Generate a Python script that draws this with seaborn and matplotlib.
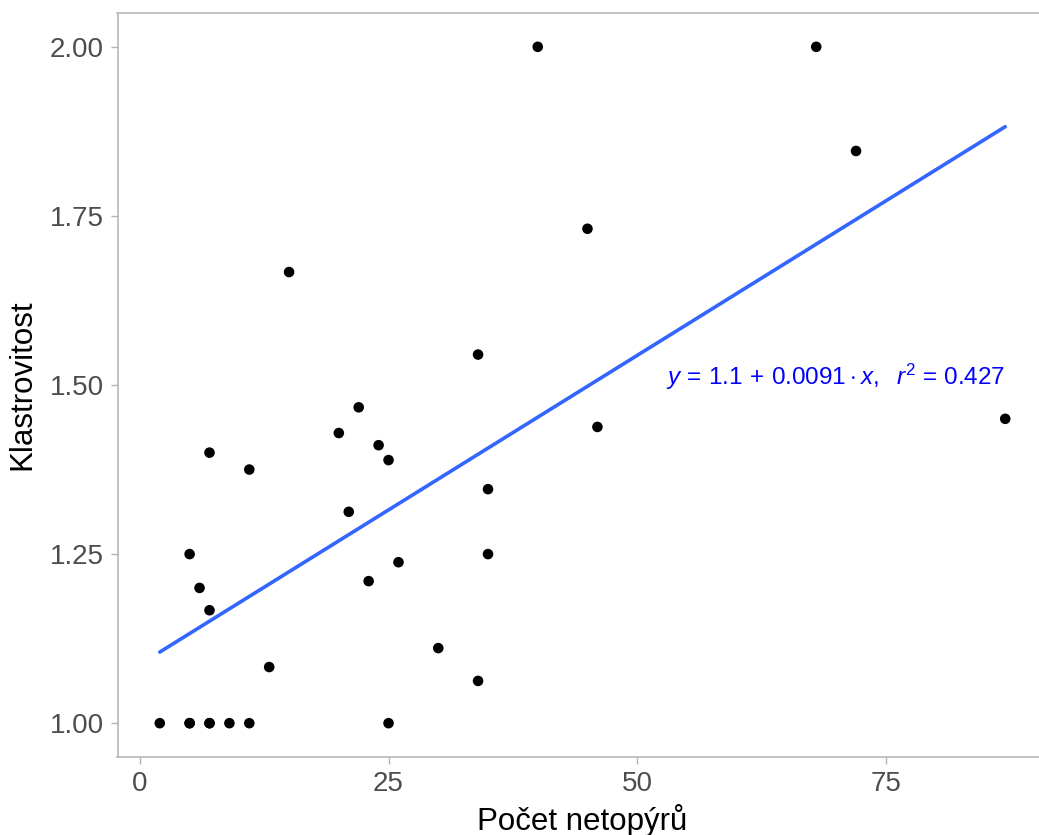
import matplotlib
matplotlib.use("Agg")
import matplotlib.pyplot as plt
import seaborn as sns
import pandas as pd

# Number of bats per site and the measured clustering index
pocet_netopyru = [2, 5, 5, 7, 7, 9, 11, 25, 13, 5, 6, 7, 7, 11, 15, 20, 22, 21, 24,
                  25, 23, 26, 30, 34, 34, 35, 35, 40, 45, 46, 68, 72, 87]
klastrovitost = [1.0, 1.0, 1.0, 1.0, 1.0, 1.0, 1.0, 1.0, 1.083, 1.25, 1.2, 1.167,
                 1.4, 1.375, 1.667, 1.429, 1.467, 1.3125, 1.411, 1.389, 1.21, 1.238,
                 1.111, 1.0625, 1.545, 1.346, 1.25, 2.0, 1.731, 1.438, 2.0, 1.846,
                 1.45]

x_ticks = [0, 25, 50, 75]
y_ticks = [1.00, 1.25, 1.50, 1.75, 2.00]
y_tick_labels = ["1.00", "1.25", "1.50", "1.75", "2.00"]

df = pd.DataFrame({"x": pocet_netopyru, "y": klastrovitost})

sns.set_theme(style="white")
plt.rcParams["font.family"] = ["Liberation Sans", "DejaVu Sans"]
plt.rcParams["mathtext.fontset"] = "custom"
plt.rcParams["mathtext.rm"] = "Liberation Sans"
plt.rcParams["mathtext.it"] = "Liberation Sans:italic"

fig = plt.figure(figsize=(10.39, 8.35), dpi=100)
ax = fig.add_axes([117.5 / 1039, 78 / 835, 930 / 1039, 744 / 835])

sns.regplot(data=df, x="x", y="y", ax=ax, scatter=False, ci=None,
            line_kws={"color": "#3366FF", "lw": 2.6})
sns.scatterplot(data=df, x="x", y="y", ax=ax, color="black", s=58,
                edgecolor="none", zorder=3)

ax.text(87, 1.512,
        r"$y\, =\, 1.1\, +\, 0.0091 \cdot x,\ \ r^2$ = 0.427",
        color="#0000FF", fontsize=17.5, ha="right", va="center")

ax.set_xlim(-2.25, 91.25)
ax.set_ylim(0.95, 2.05)
ax.set_xticks(x_ticks)
ax.set_yticks(y_ticks)
ax.set_yticklabels(y_tick_labels)
ax.tick_params(axis="both", which="major", labelsize=20, colors="#B3B3B3",
               labelcolor="#4D4D4D", length=5, width=1, direction="out",
               bottom=True, left=True, pad=5)

for side in ["left", "right", "top", "bottom"]:
    ax.spines[side].set_visible(True)
    ax.spines[side].set_color("#B3B3B3")
    ax.spines[side].set_linewidth(1.1)

ax.set_xlabel("Počet netopýrů", fontsize=22.5, color="black", labelpad=5)
ax.set_ylabel("Klastrovitost", fontsize=22.5, color="black", labelpad=9)
ax.grid(False)

fig.savefig("out.png", dpi=100)
